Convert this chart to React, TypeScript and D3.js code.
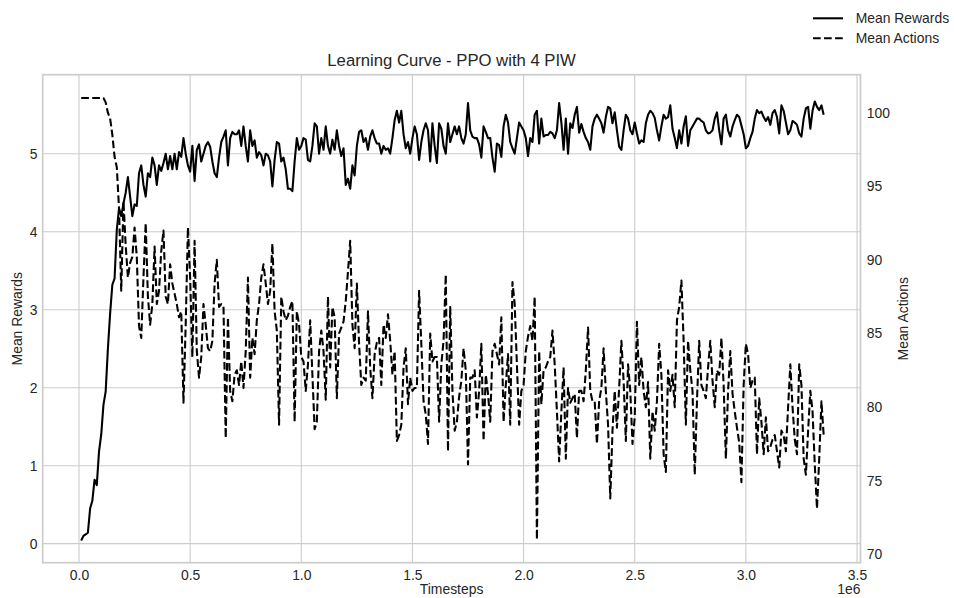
import React, { useRef, useEffect } from 'react';
import * as d3 from 'd3';

// logged every 10k timesteps, 10k .. 3.35M
const timesteps = d3.range(1, 336).map(j => j * 10000);

const meanRewards = [
  0.04, 0.1, 0.12, 0.14, 0.45, 0.55, 0.82, 0.75, 1.18, 1.4,
  1.78, 1.95, 2.5, 2.95, 3.32, 3.4, 4.02, 4.3, 4.2, 4.36,
  4.5, 4.7, 4.45, 4.2, 4.35, 4.33, 4.75, 4.85, 4.6, 4.45,
  4.75, 4.7, 4.95, 4.85, 4.6, 4.85, 4.78, 4.88, 5.0, 4.8,
  4.97, 4.8, 5.0, 4.8, 5.02, 4.96, 5.2, 5.0, 4.85, 4.77,
  5.1, 4.65, 5.05, 5.12, 4.9, 5.0, 5.1, 5.15, 5.09, 4.9,
  4.75, 4.7, 4.95, 5.15, 5.22, 5.3, 4.85, 5.2, 5.28, 5.25,
  5.25, 5.3, 5.1, 5.35, 5.1, 4.9, 5.3, 5.1, 5.17, 4.95,
  5.02, 4.98, 4.85, 5.0, 4.98, 4.9, 4.58, 4.92, 5.15, 5.13,
  4.9, 4.95, 4.8, 4.55, 4.55, 4.52, 4.9, 5.2, 5.05, 5.1,
  5.2, 5.18, 4.92, 4.9, 5.1, 5.39, 5.35, 5.0, 5.2, 5.05,
  5.35, 5.1, 5.0, 5.18, 5.05, 5.3, 5.1, 4.97, 5.07, 4.6,
  4.68, 4.55, 4.85, 4.72, 5.1, 5.28, 5.3, 5.15, 5.2, 5.05,
  5.22, 5.3, 5.2, 5.13, 5.13, 5.0, 5.1, 5.05, 5.07, 5.0,
  5.2, 5.43, 5.55, 5.4, 5.55, 5.25, 5.07, 5.15, 5.0, 5.2,
  5.35, 5.25, 4.92, 5.15, 5.3, 5.39, 5.3, 4.9, 5.39, 5.1,
  4.88, 5.39, 5.32, 5.1, 5.0, 5.39, 5.15, 5.25, 5.35, 5.25,
  5.35, 5.2, 5.13, 5.25, 5.65, 5.3, 5.22, 5.2, 5.2, 5.12,
  4.95, 5.35, 5.28, 5.2, 5.2, 4.95, 4.77, 5.13, 5.11, 4.96,
  5.35, 5.5, 5.4, 5.15, 5.07, 5.0, 5.2, 5.4, 5.35, 5.3,
  5.2, 4.97, 5.2, 5.15, 5.5, 5.55, 5.13, 5.45, 5.22, 5.24,
  5.24, 5.28, 5.26, 5.2, 5.3, 5.65, 5.4, 5.05, 5.45, 5.0,
  5.39, 5.33, 5.5, 5.6, 5.27, 5.38, 5.28, 5.2, 5.15, 5.05,
  5.35, 5.45, 5.5, 5.45, 5.39, 5.27, 5.47, 5.6, 5.58, 5.39,
  5.53, 5.3, 5.09, 5.05, 5.3, 5.5, 5.45, 5.3, 5.25, 5.4,
  5.26, 5.13, 5.17, 5.15, 5.39, 5.5, 5.55, 5.52, 5.46, 5.3,
  5.17, 5.35, 5.5, 5.45, 5.47, 5.62, 5.32, 5.2, 5.07, 5.3,
  5.13, 5.35, 5.48, 5.1, 5.3, 5.35, 5.4, 5.45, 5.45, 5.42,
  5.4, 5.3, 5.26, 5.27, 5.3, 5.45, 5.53, 5.3, 5.12, 5.45,
  5.5, 5.3, 5.22, 5.35, 5.43, 5.5, 5.47, 5.36, 5.25, 5.07,
  5.1, 5.2, 5.28, 5.45, 5.56, 5.52, 5.54, 5.47, 5.42, 5.47,
  5.37, 5.52, 5.56, 5.47, 5.26, 5.62, 5.55, 5.4, 5.25, 5.3,
  5.42, 5.4, 5.37, 5.26, 5.22, 5.45, 5.58, 5.6, 5.32, 5.55,
  5.67, 5.6, 5.56, 5.62, 5.5,
];

const meanActions = [
  101, 101, 101, 101, 101, 101, 101, 101, 101, 101,
  101, 100.7, 100, 99.6, 98.5, 97, 96.3, 93.5, 87.9, 94,
  91, 88.8, 89.8, 90.2, 92.2, 90.2, 85.5, 84.7, 88.8, 92.5,
  87.5, 85.6, 87, 90.9, 87, 87.9, 90.6, 92, 87.5, 87,
  89.7, 88.4, 87.7, 87, 86.1, 86.5, 80.3, 85.6, 92.2, 88.8,
  83.4, 91.3, 83.8, 82, 83.4, 87, 85.6, 84, 83.8, 84.5,
  88.4, 90, 86.8, 87, 86.9, 77.9, 86.1, 81.1, 80.4, 82.2,
  82.5, 81.5, 83.1, 81.3, 83.8, 88.8, 82, 84.7, 83.6, 85.9,
  87, 88.8, 89.7, 88.4, 87, 87.9, 91.1, 86.5, 85.2, 78.8,
  87.5, 86.5, 85.9, 86.2, 86.8, 87.2, 79, 86.5, 85.6, 83.4,
  83.1, 81.1, 82.9, 85.9, 82.2, 78.5, 79, 83.8, 85.2, 83.8,
  80.5, 87.5, 82.7, 86.8, 86.1, 80.6, 85, 85.4, 85.8, 87.2,
  89.2, 91.3, 85.6, 84, 88.4, 84.3, 81.5, 82, 81.8, 86.5,
  82.7, 80.6, 83.6, 84.4, 84.7, 81.5, 85.6, 84.7, 86.3, 84.5,
  82.2, 83.8, 77.7, 78.1, 78.8, 82.7, 84, 80.2, 82, 81.1,
  81.3, 81.3, 87.9, 84.3, 80.4, 79.5, 77.5, 85, 83.1, 83.4,
  83.4, 79, 82.9, 84.5, 89, 77, 86.8, 81.1, 78.4, 79,
  80.7, 81.8, 84, 82.5, 76.1, 82, 82, 82.5, 79.3, 81.1,
  84.3, 77.7, 82.2, 80.9, 79, 83.8, 84.3, 83.6, 82.9, 86.1,
  79, 81.5, 83.6, 78.8, 88.5, 87, 82.9, 78.8, 81.1, 81.5,
  83.8, 84.8, 85.5, 84.5, 87.5, 71, 83.8, 80.2, 82.5, 82.7,
  83.1, 83.4, 85.2, 82.9, 79.7, 76.3, 79.7, 82.7, 76.5, 81.3,
  80.3, 80.6, 80.9, 77.9, 81.1, 81.1, 80.4, 82.5, 85.4, 81.1,
  80.4, 80.4, 77.5, 80.4, 81.3, 84, 81.1, 78.8, 73.8, 78.4,
  81.1, 78.6, 81.3, 84.5, 81.8, 77.7, 82.9, 81.1, 77.5, 79.3,
  85.8, 81.5, 83.4, 81.1, 80, 81.7, 76.5, 79.7, 78.4, 80.4,
  84.3, 82.2, 76.8, 75.6, 82.5, 81.1, 82.2, 80, 85.9, 86.8,
  88.6, 84.5, 78.8, 84.5, 82.5, 81.1, 75.4, 80.4, 84.5, 81.5,
  81.1, 80.6, 82.7, 84.5, 81.8, 80, 82.5, 82.2, 84.7, 81.5,
  76.5, 81.1, 83.8, 80.9, 79.7, 78.6, 77.6, 74.9, 81.5, 84.3,
  83.6, 81.3, 81.8, 82, 76.8, 80.6, 79, 76.8, 79.3, 77,
  77.3, 77.8, 78.1, 77, 75.9, 78.4, 78.1, 77, 80, 82.9,
  80, 77.8, 76.8, 82.9, 81.5, 76.5, 75.4, 78.4, 81.1, 79.7,
  76.1, 73.1, 76.5, 80.4, 78.1,
];

const xTicks = [0, 0.5e6, 1e6, 1.5e6, 2e6, 2.5e6, 3e6, 3.5e6];
const rewardTicks = [0, 1, 2, 3, 4, 5];
const actionTicks = [70, 75, 80, 85, 90, 95, 100];

const FONT = '"Liberation Sans", Arial, sans-serif';
const TEXT = '#262626';
const GRID = '#cccccc';

function App() {
  const chartRef = useRef<SVGSVGElement | null>(null);

  useEffect(() => {
    drawChart();
  }, []);

  function drawChart() {
    const svg = d3.select(chartRef.current);
    svg.selectAll('*').remove();

    const left = 42.7, right = 860.5, top = 74.7, bottom = 562.7;

    const x = d3.scaleLinear().domain([-163300, 3515700]).range([left, right]);
    const yL = d3.scaleLinear().domain([-0.244, 6.013]).range([bottom, top]);
    const yR = d3.scaleLinear().domain([69.43, 102.58]).range([bottom, top]);

    // grid
    const grid = svg.append('g');
    grid.selectAll('.vx')
      .data(xTicks)
      .join('line')
      .attr('x1', d => x(d)).attr('x2', d => x(d))
      .attr('y1', top).attr('y2', bottom)
      .attr('stroke', GRID).attr('stroke-width', 1.1);
    grid.selectAll('.hy')
      .data(rewardTicks)
      .join('line')
      .attr('x1', left).attr('x2', right)
      .attr('y1', d => yL(d)).attr('y2', d => yL(d))
      .attr('stroke', GRID).attr('stroke-width', 1.1);

    // spines
    svg.append('rect')
      .attr('x', left).attr('y', top)
      .attr('width', right - left).attr('height', bottom - top)
      .attr('fill', 'none').attr('stroke', GRID).attr('stroke-width', 1.7);

    const pts = timesteps.map((t, i) => ({ t, r: meanRewards[i], a: meanActions[i] }));

    const rewardLine = d3.line<any>().x(d => x(d.t)).y(d => yL(d.r));
    const actionLine = d3.line<any>().x(d => x(d.t)).y(d => yR(d.a));

    svg.append('path')
      .datum(pts)
      .attr('fill', 'none')
      .attr('stroke', '#000')
      .attr('stroke-width', 2.08)
      .attr('stroke-linejoin', 'round')
      .attr('d', rewardLine);

    svg.append('path')
      .datum(pts)
      .attr('fill', 'none')
      .attr('stroke', '#000')
      .attr('stroke-width', 2.08)
      .attr('stroke-dasharray', '7.7,3.33')
      .attr('stroke-linejoin', 'round')
      .attr('d', actionLine);

    // axes
    const xAxis = d3.axisBottom(x).tickValues(xTicks).tickSize(0).tickPadding(7.4)
      .tickFormat(d => (+d / 1e6).toFixed(1));
    const yAxisL = d3.axisLeft(yL).tickValues(rewardTicks).tickSize(0).tickPadding(5.3)
      .tickFormat(d => String(d));
    const yAxisR = d3.axisRight(yR).tickValues(actionTicks).tickSize(0).tickPadding(6.2)
      .tickFormat(d => String(d));

    const styleAxis = (g: any) => {
      g.select('.domain').remove();
      g.selectAll('text')
        .attr('fill', TEXT)
        .style('font-family', FONT)
        .style('font-size', '13.9px');
    };

    svg.append('g').attr('transform', `translate(0,${bottom})`).call(xAxis).call(styleAxis);
    svg.append('g').attr('transform', `translate(${left},0)`).call(yAxisL).call(styleAxis);
    svg.append('g').attr('transform', `translate(${right},0)`).call(yAxisR).call(styleAxis);

    const label = (txt: string, px: number, py: number, size: number, anchor: string, rot = 0) =>
      svg.append('text')
        .attr('transform', `translate(${px},${py}) rotate(${rot})`)
        .attr('text-anchor', anchor)
        .attr('fill', TEXT)
        .style('font-family', FONT)
        .style('font-size', `${size}px`)
        .text(txt);

    label('Learning Curve - PPO with 4 PIW', (left + right) / 2, 66, 16.7, 'middle');
    label('Timesteps', (left + right) / 2, 594, 13.9, 'middle');
    label('1e6', right, 594, 13.9, 'end');
    label('Mean Rewards', 21.7, (top + bottom) / 2, 13.9, 'middle', -90);
    label('Mean Actions', 908.3, (top + bottom) / 2, 13.9, 'middle', -90);

    // legend
    const legend = svg.append('g');
    const items = [
      { name: 'Mean Rewards', dash: null, y: 18.3 },
      { name: 'Mean Actions', dash: '7.7,3.33', y: 38.3 },
    ];
    items.forEach(it => {
      legend.append('line')
        .attr('x1', 813).attr('x2', 843)
        .attr('y1', it.y).attr('y2', it.y)
        .attr('stroke', '#000').attr('stroke-width', 2.08)
        .attr('stroke-dasharray', it.dash);
      legend.append('text')
        .attr('x', 855.7).attr('y', it.y + 4.4)
        .attr('fill', TEXT)
        .style('font-family', FONT)
        .style('font-size', '13.9px')
        .text(it.name);
    });
  }

  return (
    <svg
      ref={chartRef}
      width={954}
      height={598}
      style={{ position: 'absolute', left: 0, top: 0, background: '#fff' }}
    />
  );
}

export default App;
